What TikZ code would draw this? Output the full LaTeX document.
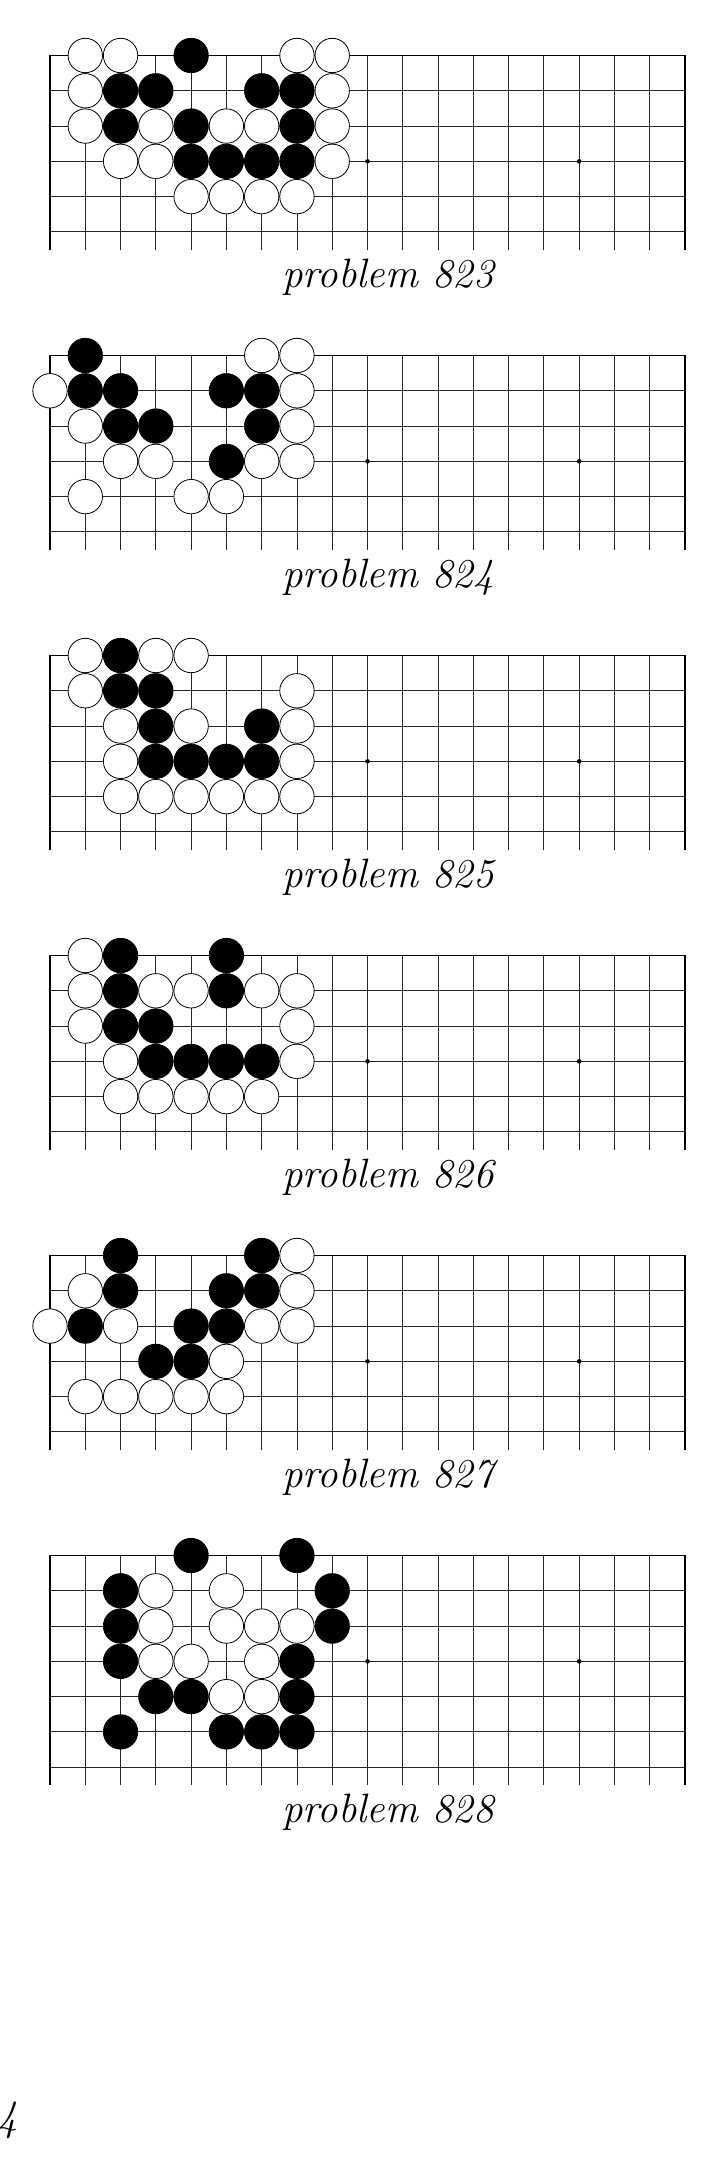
\documentclass[tikz,border=0pt]{standalone}
\begin{document}
\tikzset{
  gridline/.style={line width=0.9pt, black!85},
  edgeline/.style={line width=1.7pt, black},
  bstone/.style={fill=black, draw=black, line width=0.8pt},
  wstone/.style={fill=white, draw=black, line width=0.8pt},
  starpt/.style={fill=black},
  caption/.style={anchor=base, inner sep=0pt, font=\fontsize{41}{43}\selectfont\itshape},
  pagenum/.style={anchor=base east, inner sep=0pt, font=\fontsize{43}{45}\selectfont\itshape},
}
\newcommand\GoBoard[6]{% #1 top y, #2 rows, #3 black, #4 white, #5 label, #6 name
\begin{scope}[shift={(0,#1)}]
  \pgfmathtruncatemacro\lastrow{#2-1}
  \pgfmathsetmacro\stub{(#2-0.5)*35.28}
  \foreach \rr in {1,...,\lastrow} \draw[gridline] (50,\rr*35.28) -- (685,\rr*35.28);
  \foreach \cc in {1,...,17} \draw[gridline] (50+\cc*35.28,0) -- (50+\cc*35.28,\stub);
  \draw[edgeline] (50,\stub) -- (50,0) -- (685,0) -- (685,\stub);
  \foreach \cc in {3,9,15} \fill[starpt] (50+\cc*35.28,3*35.28) circle (2.3pt);
  \foreach \cc/\rr in {#3} \draw[bstone] (50+\cc*35.28,\rr*35.28) circle (17.2pt);
  \foreach \cc/\rr in {#4} \draw[wstone] (50+\cc*35.28,\rr*35.28) circle (17.2pt);
  \node[caption] (#6) at (388,{232+(#2-6)*35.28}) {problem #5};
\end{scope}}
\begin{tikzpicture}[x=1pt,y=-1pt]
\useasboundingbox (0,0) rectangle (725,2181);
\fill[white] (0,0) rectangle (725,2181);
% problem 823
\GoBoard{55.5}{6}
 {4/0, 2/1,3/1,6/1,7/1, 2/2,4/2,7/2, 4/3,5/3,6/3,7/3}
 {1/0,2/0,7/0,8/0, 1/1,8/1, 1/2,3/2,5/2,6/2,8/2, 2/3,3/3,8/3, 4/4,5/4,6/4,7/4}
 {823}{cap823}
% problem 824
\GoBoard{355.5}{6}
 {1/0, 1/1,2/1,5/1,6/1, 2/2,3/2,6/2, 5/3}
 {6/0,7/0, 0/1,7/1, 1/2,7/2, 2/3,3/3,6/3,7/3, 1/4,4/4,5/4}
 {824}{cap824}
% problem 825
\GoBoard{655.5}{6}
 {2/0, 2/1,3/1, 3/2,6/2, 3/3,4/3,5/3,6/3}
 {1/0,3/0,4/0, 1/1,7/1, 2/2,4/2,7/2, 2/3,7/3, 2/4,3/4,4/4,5/4,6/4,7/4}
 {825}{cap825}
% problem 826
\GoBoard{955.5}{6}
 {2/0,5/0, 2/1,5/1, 2/2,3/2, 3/3,4/3,5/3,6/3}
 {1/0, 1/1,3/1,4/1,6/1,7/1, 1/2,7/2, 2/3,7/3, 2/4,3/4,4/4,5/4,6/4}
 {826}{cap826}
% problem 827
\GoBoard{1255.5}{6}
 {2/0,6/0, 2/1,5/1,6/1, 1/2,4/2,5/2, 3/3,4/3}
 {7/0, 1/1,7/1, 0/2,2/2,6/2,7/2, 5/3, 1/4,2/4,3/4,4/4,5/4}
 {827}{cap827}
% problem 828
\GoBoard{1555.5}{7}
 {4/0,7/0, 2/1,8/1, 2/2,8/2, 2/3,7/3, 3/4,4/4,7/4, 2/5,5/5,6/5,7/5}
 {3/1,5/1, 3/2,5/2,6/2,7/2, 3/3,4/3,6/3, 5/4,6/4}
 {828}{cap828}
\node[pagenum] (page) at (18,2130) {4};
\end{tikzpicture}
\end{document}
